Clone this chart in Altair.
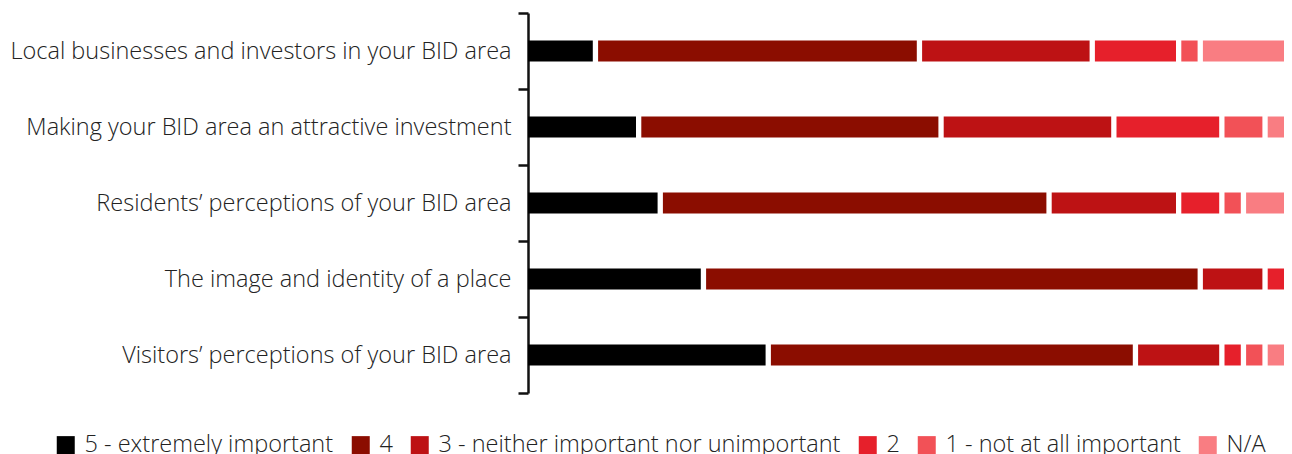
import altair as alt
import pandas as pd

items = [
    "Local businesses and investors in your BID area",
    "Making your BID area an attractive investment",
    "Residents\u2019 perceptions of your BID area",
    "The image and identity of a place",
    "Visitors\u2019 perceptions of your BID area",
]
ratings = [
    "5 - extremely important",
    "4",
    "3 - neither important nor unimportant",
    "2",
    "1 - not at all important",
    "N/A",
]
colors = ["#000000", "#8b0d00", "#bd1214", "#e6202b", "#f25157", "#f97d82"]

r5 = [3, 5, 6, 8, 11]
r4 = [15, 14, 18, 23, 17]
r3 = [8, 8, 6, 3, 4]
r2 = [4, 5, 2, 1, 1]
r1 = [1, 2, 1, 0, 1]
na = [4, 1, 2, 0, 1]

series = [r5, r4, r3, r2, r1, na]
rows = []
for ri, (rating, vals) in enumerate(zip(ratings, series)):
    for item, v in zip(items, vals):
        rows.append({"item": item, "rating": rating, "idx": ri, "count": v})
df = pd.DataFrame(rows)

FONT = "Open Sans"
TOTAL = 35
PLOT_W = 756
GAP_PX = 5.3
gap_units = GAP_PX * TOTAL / PLOT_W

chart = (
    alt.Chart(df)
    .transform_filter("datum.count > 0")
    .transform_stack(
        stack="count",
        groupby=["item"],
        as_=["x0", "x1"],
        sort=[alt.SortField("idx", order="ascending")],
    )
    .transform_calculate(xs=f"datum.x0 + (datum.idx > 0 ? {gap_units} : 0)")
    .mark_bar(size=21)
    .encode(
        y=alt.Y(
            "item:N",
            sort=items,
            title=None,
            scale=alt.Scale(paddingInner=0, paddingOuter=0),
            axis=alt.Axis(
                tickBand="extent",
                domainColor="#111111",
                domainWidth=2.5,
                tickColor="#111111",
                tickWidth=2.5,
                tickSize=10,
                labelPadding=7,
                labelFont=FONT,
                labelFontWeight=300,
                labelFontSize=23.5,
                labelColor="#222222",
                labelLimit=700,
            ),
        ),
        x=alt.X(
            "xs:Q",
            axis=None,
            scale=alt.Scale(domain=[0, TOTAL], nice=False, zero=True),
        ),
        x2="x1:Q",
        color=alt.Color(
            "rating:N",
            sort=ratings,
            scale=alt.Scale(domain=ratings, range=colors),
            legend=alt.Legend(
                title=None,
                orient="none",
                direction="horizontal",
                legendX=-474,
                legendY=420,
                padding=0,
                symbolType="square",
                symbolSize=324,
                symbolStrokeWidth=0,
                symbolOpacity=1,
                labelFont=FONT,
                labelFontWeight=300,
                labelFontSize=23.5,
                labelColor="#222222",
                labelOffset=7,
                columnPadding=15,
                labelLimit=700,
            ),
        ),
    )
    .properties(
        width=PLOT_W,
        height=380,
        autosize=alt.AutoSizeParams(type="none"),
        padding={"left": 520, "top": 5, "right": 0, "bottom": 62},
    )
    .configure_view(stroke=None)
)

chart.save("out.html", embed_options={"renderer": "svg", "actions": False})
